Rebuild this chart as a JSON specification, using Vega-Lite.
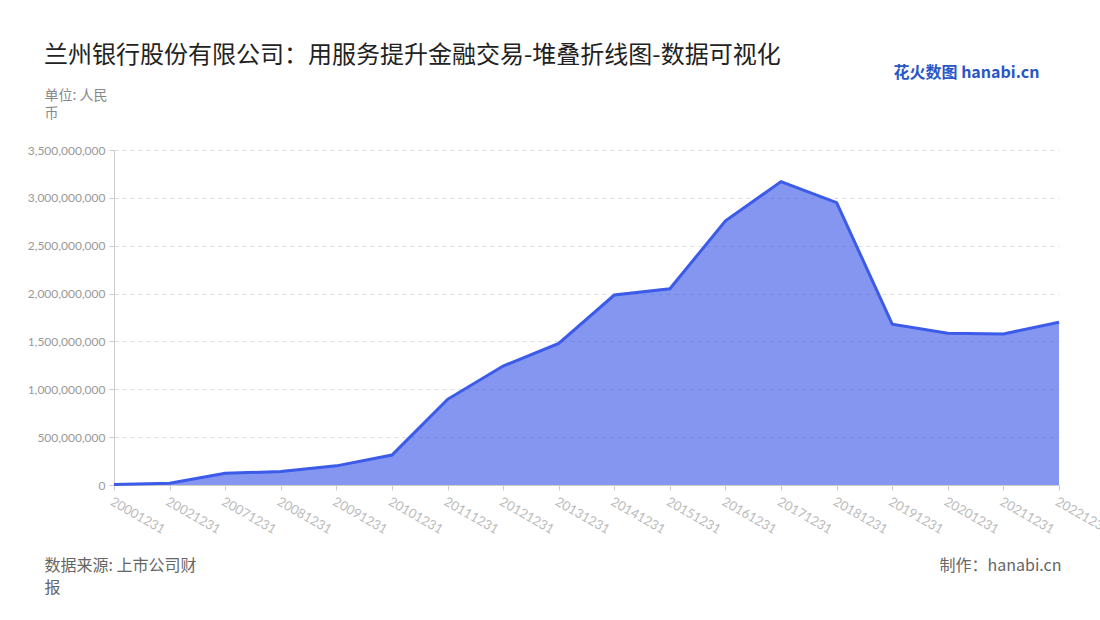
{
  "$schema": "https://vega.github.io/schema/vega-lite/v6.json",
  "width": 945,
  "height": 335,
  "autosize": "none",
  "padding": {"left": 114, "top": 150, "right": 41, "bottom": 135},
  "background": "white",
  "title": {
    "text": "兰州银行股份有限公司：用服务提升金融交易-堆叠折线图-数据可视化",
    "anchor": "start",
    "frame": "group",
    "dx": -70,
    "offset": -4,
    "fontSize": 24,
    "fontWeight": "normal",
    "font": "Noto Sans CJK SC",
    "color": "#222222"
  },
  "data": {
    "values": [
      {"date": "20001231", "value": 5000000},
      {"date": "20021231", "value": 18000000},
      {"date": "20071231", "value": 122000000},
      {"date": "20081231", "value": 140000000},
      {"date": "20091231", "value": 200000000},
      {"date": "20101231", "value": 313000000},
      {"date": "20111231", "value": 895000000},
      {"date": "20121231", "value": 1243000000},
      {"date": "20131231", "value": 1480000000},
      {"date": "20141231", "value": 1985000000},
      {"date": "20151231", "value": 2050000000},
      {"date": "20161231", "value": 2760000000},
      {"date": "20171231", "value": 3170000000},
      {"date": "20181231", "value": 2950000000},
      {"date": "20191231", "value": 1680000000},
      {"date": "20201231", "value": 1585000000},
      {"date": "20211231", "value": 1578000000},
      {"date": "20221231", "value": 1700000000}
    ]
  },
  "layer": [
    {
      "mark": {"type": "area", "color": "#3250e6", "opacity": 0.6},
      "encoding": {
        "x": {
          "field": "date",
          "type": "ordinal",
          "scale": {"type": "point", "padding": 0},
          "axis": {
            "orient": "bottom",
            "labelAngle": 30,
            "labelAlign": "left",
            "labelBaseline": "top",
            "labelColor": "#bbbbbb",
            "labelFontSize": 13,
            "labelFont": "Lato",
            "labelPadding": 5,
            "tickColor": "#cccccc",
            "tickSize": 5,
            "domainColor": "#cccccc",
            "grid": false,
            "title": ["数据来源: 上市公司财", "报"],
            "titleX": -70,
            "titleY": 72,
            "titleAlign": "left",
            "titleBaseline": "top",
            "titleAngle": 0,
            "titleFont": "Noto Sans CJK SC",
            "titleFontSize": 16,
            "titleFontWeight": "normal",
            "titleColor": "#666666",
            "titleLineHeight": 22
          }
        },
        "y": {
          "field": "value",
          "type": "quantitative",
          "scale": {"domain": [0, 3500000000]},
          "axis": {
            "orient": "left",
            "values": [0, 500000000, 1000000000, 1500000000, 2000000000, 2500000000, 3000000000, 3500000000],
            "format": ",.0f",
            "labelColor": "#999999",
            "labelFontSize": 12,
            "labelFont": "Lato",
            "labelPadding": 4,
            "tickColor": "#cccccc",
            "tickSize": 5,
            "domainColor": "#cccccc",
            "grid": true,
            "gridColor": "#dddddd",
            "gridDash": [4, 4],
            "title": ["单位: 人民", "币"],
            "titleX": -70,
            "titleY": -62,
            "titleAlign": "left",
            "titleBaseline": "top",
            "titleAngle": 0,
            "titleFont": "Noto Sans CJK SC",
            "titleFontSize": 14,
            "titleFontWeight": "normal",
            "titleColor": "#888888",
            "titleLineHeight": 18
          }
        }
      }
    },
    {
      "mark": {"type": "line", "color": "#3b5be8", "strokeWidth": 3},
      "encoding": {
        "x": {
          "field": "date",
          "type": "ordinal",
          "scale": {"type": "point", "padding": 0},
          "axis": {
            "orient": "top",
            "labels": false,
            "ticks": false,
            "domain": false,
            "grid": false,
            "title": "花火数图 hanabi.cn",
            "titleX": 779,
            "titleY": -78,
            "titleAlign": "left",
            "titleBaseline": "middle",
            "titleAngle": 0,
            "titleFont": "Noto Sans CJK SC",
            "titleFontSize": 16,
            "titleFontWeight": "bold",
            "titleColor": "#2a56c6"
          }
        },
        "y": {
          "field": "value",
          "type": "quantitative",
          "scale": {"domain": [0, 3500000000]},
          "axis": {
            "orient": "right",
            "labels": false,
            "ticks": false,
            "domain": false,
            "grid": false,
            "title": "制作：hanabi.cn",
            "titleX": 2,
            "titleY": 407,
            "titleAlign": "right",
            "titleBaseline": "top",
            "titleAngle": 0,
            "titleFont": "Noto Sans CJK SC",
            "titleFontSize": 16,
            "titleFontWeight": "normal",
            "titleColor": "#666666"
          }
        }
      }
    }
  ],
  "resolve": {"axis": {"x": "independent", "y": "independent"}},
  "config": {"view": {"stroke": null}}
}
